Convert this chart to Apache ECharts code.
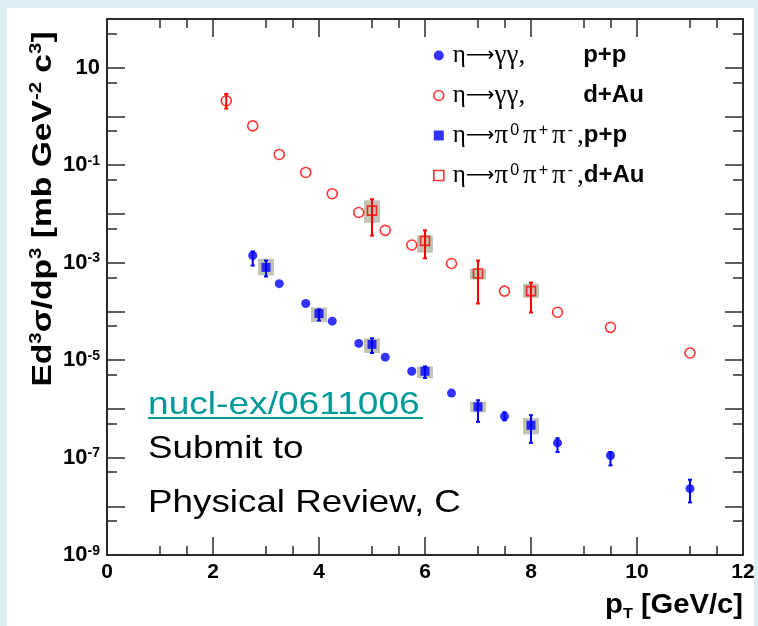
<!DOCTYPE html>
<html>
<head>
<meta charset="utf-8">
<script src="https://cdn.jsdelivr.net/npm/echarts@6/dist/echarts.min.js"></script>
<style>
  html, body { margin: 0; padding: 0; background: #dbeef3; }
  #panel { position: absolute; left: 7px; top: 8px; width: 747px; height: 618px; background: #ffffff; }
  #chart { position: absolute; left: 0; top: 0; width: 758px; height: 626px; }
</style>
</head>
<body>
<div id="panel"></div>
<div id="chart"></div>
<script>
// Invariant cross sections of eta mesons, p+p and d+Au, two decay channels

// eta -> gamma gamma, p+p
const ppGGPt  = [2.75, 3.25, 3.75, 4.25, 4.75, 5.25, 5.75, 6.5, 7.5, 8.5, 9.5, 11];
const ppGGVal = [1.4e-3, 3.7e-4, 1.45e-4, 6.3e-5, 2.2e-5, 1.15e-5, 5.9e-6, 2.1e-6, 7.0e-7, 2.0e-7, 1.1e-7, 2.3e-8];
// error bars that reach beyond the markers
const ppGGErrPt = [2.75, 7.5, 8.5, 9.5, 11];
const ppGGLo    = [8.7e-4, 5.8e-7, 1.3e-7, 6.9e-8, 1.2e-8];
const ppGGHi    = [1.7e-3, 8.5e-7, 2.5e-7, 1.3e-7, 3.5e-8];

// eta -> gamma gamma, d+Au
const dAuGGPt  = [2.25, 2.75, 3.25, 3.75, 4.25, 4.75, 5.25, 5.75, 6.5, 7.5, 8.5, 9.5, 11];
const dAuGGVal = [2.1, 0.64, 0.166, 0.071, 0.026, 0.0107, 4.6e-3, 2.3e-3, 9.6e-4, 2.6e-4, 9.6e-5, 4.7e-5, 1.4e-5];
const dAuGGErrPt = [2.25];
const dAuGGLo    = [1.45];
const dAuGGHi    = [2.9];

// eta -> pi0 pi+ pi-, p+p
const ppPiPt    = [3, 4, 5, 6, 7, 8];
const ppPiVal   = [8.0e-4, 9.0e-5, 2.1e-5, 5.9e-6, 1.1e-6, 4.6e-7];
const ppPiLo    = [5.2e-4, 6.5e-5, 1.4e-5, 4.3e-6, 5.4e-7, 2.0e-7];
const ppPiHi    = [1.1e-3, 1.1e-4, 2.8e-5, 7.4e-6, 1.5e-6, 7.4e-7];
const ppPiSysLo = [5.5e-4, 6.0e-5, 1.4e-5, 4.3e-6, 8.5e-7, 3.0e-7];
const ppPiSysHi = [1.2e-3, 1.2e-4, 2.8e-5, 7.4e-6, 1.4e-6, 6.5e-7];

// eta -> pi0 pi+ pi-, d+Au
const dAuPiPt    = [5, 6, 7, 8];
const dAuPiVal   = [0.0117, 2.8e-3, 6.0e-4, 2.6e-4];
const dAuPiLo    = [3.6e-3, 1.23e-3, 1.45e-4, 9.5e-5];
const dAuPiHi    = [0.020, 4.6e-3, 1.1e-3, 3.9e-4];
const dAuPiSysLo = [6.6e-3, 1.6e-3, 4.5e-4, 1.9e-4];
const dAuPiSysHi = [0.019, 3.6e-3, 7.5e-4, 3.7e-4];

const seriesNames = ['η→γγ, p+p', 'η→γγ, d+Au', 'η→π0π+π-, p+p', 'η→π0π+π-, d+Au'];

// axis ticks and labels
const xMajorTicks = [0, 2, 4, 6, 8, 10, 12];
const xMinorTicks = [1, 1.5, 3, 3.5, 5, 5.5, 7, 7.5, 9, 9.5, 11, 11.5];
const yMajorTicks = [1e-9, 1e-8, 1e-7, 1e-6, 1e-5, 1e-4, 1e-3, 1e-2, 1e-1, 1, 10];
const yMinorTicks = [5e-9, 5e-8, 5e-7, 5e-6, 5e-5, 5e-4, 5e-3, 5e-2, 0.5, 5, 50];
const yLabelValues = [1e-9, 1e-7, 1e-5, 1e-3, 1e-1, 10];

const BLUE = '#0000ff';
const RED = '#ff0000';
const FRAME = '#2b2b2b';
const SYS_FILL = 'rgba(135, 135, 105, 0.5)';

const chart = echarts.init(document.getElementById('chart'), null, { renderer: 'canvas' });

function xAxisDef(position, ticks, len, showLine, showLabel) {
  return {
    type: 'value', position, min: 0, max: 12, interval: 2,
    axisLine: { show: showLine, onZero: false, lineStyle: { color: FRAME, width: 2 } },
    axisTick: { show: true, inside: true, length: len, customValues: ticks, lineStyle: { color: FRAME, width: 1.5 } },
    axisLabel: showLabel ? {
      show: true, margin: 7, color: '#000', fontFamily: 'Liberation Sans', fontWeight: 'bold', fontSize: 21
    } : { show: false },
    splitLine: { show: false }
  };
}

function yAxisDef(position, ticks, len, showLine, showLabel) {
  return {
    type: 'log', logBase: 10, position, min: 1e-9, max: 100,
    axisLine: { show: showLine, onZero: false, lineStyle: { color: FRAME, width: 2 } },
    axisTick: { show: true, inside: true, length: len, customValues: ticks, lineStyle: { color: FRAME, width: 1.5 } },
    axisLabel: showLabel ? {
      show: true, margin: 7, customValues: yLabelValues,
      formatter: function (v) {
        const e = Math.round(Math.log10(v));
        return e === 1 ? '{b|10}' : '{b|10}{s|' + e + '}';
      },
      rich: {
        b: { color: '#000', fontFamily: 'Liberation Sans', fontWeight: 'bold', fontSize: 22, lineHeight: 22 },
        s: { color: '#000', fontFamily: 'Liberation Sans', fontWeight: 'bold', fontSize: 14, lineHeight: 14, verticalAlign: 'top' }
      }
    } : { show: false },
    splitLine: { show: false }
  };
}

function zip3(xs, a, b) { return xs.map((x, i) => [x, a[i], b[i]]); }

function errorBars(xs, lo, hi, color) {
  return {
    type: 'custom', xAxisIndex: 0, yAxisIndex: 0, silent: true, z: 3,
    data: zip3(xs, lo, hi),
    encode: { x: 0, y: [1, 2] },
    renderItem: function (params, api) {
      const top = api.coord([api.value(0), api.value(2)]);
      const bot = api.coord([api.value(0), api.value(1)]);
      const st = { stroke: color, lineWidth: 2 };
      return {
        type: 'group',
        children: [
          { type: 'line', shape: { x1: top[0], y1: top[1], x2: bot[0], y2: bot[1] }, style: st },
          { type: 'line', shape: { x1: top[0] - 2, y1: top[1], x2: top[0] + 2, y2: top[1] }, style: st },
          { type: 'line', shape: { x1: bot[0] - 2, y1: bot[1], x2: bot[0] + 2, y2: bot[1] }, style: st }
        ]
      };
    }
  };
}

function sysBoxes(xs, lo, hi) {
  const halfW = 0.15;
  return {
    type: 'custom', xAxisIndex: 0, yAxisIndex: 0, silent: true, z: 2,
    data: zip3(xs, lo, hi),
    encode: { x: 0, y: [1, 2] },
    renderItem: function (params, api) {
      const a = api.coord([api.value(0) - halfW, api.value(2)]);
      const b = api.coord([api.value(0) + halfW, api.value(1)]);
      return {
        type: 'rect',
        shape: { x: a[0], y: a[1], width: b[0] - a[0], height: b[1] - a[1] },
        style: { fill: SYS_FILL }
      };
    }
  };
}

function points(name, xs, ys, symbol, filled, color, size) {
  return {
    type: 'scatter', name, xAxisIndex: 0, yAxisIndex: 0, z: 5,
    symbol, symbolSize: size,
    data: xs.map((x, i) => [x, ys[i]]),
    itemStyle: filled
      ? { color: color, borderWidth: 0 }
      : { color: 'rgba(0,0,0,0)', borderColor: color, borderWidth: 1.6 }
  };
}

const legendRich = {
  g: { color: '#000', fontFamily: 'Liberation Serif', fontSize: 27, lineHeight: 26 },
  h: { color: '#000', fontFamily: 'Liberation Serif', fontSize: 25, lineHeight: 26, padding: [0, 0, 0, 4] },
  ar: { color: '#000', fontFamily: 'DejaVu Sans', fontSize: 20, lineHeight: 26 },
  s: { color: '#000', fontFamily: 'Liberation Sans', fontSize: 16, lineHeight: 16, verticalAlign: 'top', padding: [0, 4, 0, 2] },
  sp: { fontSize: 10, width: 58 },
  c: { color: '#000', fontFamily: 'Liberation Sans', fontWeight: 'bold', fontSize: 24, lineHeight: 26 }
};

function legendText(name) {
  const parts = name.split(', ');
  const beam = '{c|' + parts[1] + '}';
  if (parts[0].indexOf('γγ') >= 0) {
    return '{h|η}{ar|⟶}{g|γγ,}{sp| }' + beam;
  }
  return '{h|η}{ar|⟶}{g|π}{s|0}{g|π}{s|+}{g|π}{s|-}{g|,}' + beam;
}

const option = {
  animation: false,
  backgroundColor: 'transparent',
  grid: { left: 107, top: 19, width: 636, height: 536, containLabel: false, outerBoundsMode: 'none' },
  xAxis: [
    xAxisDef('bottom', xMajorTicks, 18, true, true),
    xAxisDef('bottom', xMinorTicks, 9, false, false),
    xAxisDef('top', xMajorTicks, 18, true, false),
    xAxisDef('top', xMinorTicks, 9, false, false)
  ],
  yAxis: [
    yAxisDef('left', yMajorTicks, 18, true, true),
    yAxisDef('left', yMinorTicks, 10, false, false),
    yAxisDef('right', yMajorTicks, 18, true, false),
    yAxisDef('right', yMinorTicks, 10, false, false)
  ],
  legend: {
    orient: 'vertical', left: 428, top: 37, itemWidth: 10, itemHeight: 10, itemGap: 13,
    selectedMode: false,
    data: [
      { name: seriesNames[0], icon: 'circle', itemStyle: { color: BLUE, borderWidth: 0 } },
      { name: seriesNames[1], icon: 'circle', itemStyle: { color: 'rgba(0,0,0,0)', borderColor: RED, borderWidth: 1.6 } },
      { name: seriesNames[2], icon: 'rect', itemStyle: { color: BLUE, borderWidth: 0 } },
      { name: seriesNames[3], icon: 'rect', itemStyle: { color: 'rgba(0,0,0,0)', borderColor: RED, borderWidth: 1.6 } }
    ],
    formatter: legendText,
    textStyle: { rich: legendRich }
  },
  series: [
    sysBoxes(ppPiPt, ppPiSysLo, ppPiSysHi),
    sysBoxes(dAuPiPt, dAuPiSysLo, dAuPiSysHi),
    errorBars(ppGGErrPt, ppGGLo, ppGGHi, BLUE),
    errorBars(dAuGGErrPt, dAuGGLo, dAuGGHi, RED),
    errorBars(ppPiPt, ppPiLo, ppPiHi, BLUE),
    errorBars(dAuPiPt, dAuPiLo, dAuPiHi, RED),
    points(seriesNames[0], ppGGPt, ppGGVal, 'circle', true, BLUE, 9),
    points(seriesNames[1], dAuGGPt, dAuGGVal, 'circle', false, RED, 10),
    points(seriesNames[2], ppPiPt, ppPiVal, 'rect', true, BLUE, 9),
    points(seriesNames[3], dAuPiPt, dAuPiVal, 'rect', false, RED, 9)
  ],
  graphic: [
    {
      type: 'text', x: 43, y: 209, rotation: Math.PI / 2, scaleX: 1.2, silent: true,
      style: {
        text: '{m|Ed}{s|3}{m|σ/dp}{s|3}{m| [mb GeV}{s|-2}{m| c}{s|3}{m|]}',
        align: 'center', verticalAlign: 'middle', fill: '#000',
        rich: {
          m: { fill: '#000', fontFamily: 'Liberation Sans', fontWeight: 'bold', fontSize: 28, lineHeight: 30 },
          s: { fill: '#000', fontFamily: 'Liberation Sans', fontWeight: 'bold', fontSize: 17, lineHeight: 17, verticalAlign: 'top' }
        }
      }
    },
    {
      type: 'text', x: 743, y: 606, scaleX: 1.08, silent: true,
      style: {
        text: '{m|p}{t|T}{m| [GeV/c]}',
        align: 'right', verticalAlign: 'middle', fill: '#000',
        rich: {
          m: { fill: '#000', fontFamily: 'Liberation Sans', fontWeight: 'bold', fontSize: 27, lineHeight: 30 },
          t: { fill: '#000', fontFamily: 'Liberation Sans', fontWeight: 'bold', fontSize: 15, lineHeight: 15, verticalAlign: 'bottom' }
        }
      }
    },
    {
      type: 'text', x: 148, y: 405, scaleX: 1.16, silent: true,
      style: { text: 'nucl-ex/0611006', align: 'left', verticalAlign: 'middle', fill: '#009999',
               font: '32px "Liberation Sans", Arial, sans-serif' }
    },
    {
      type: 'line', silent: true,
      shape: { x1: 148, y1: 418, x2: 423, y2: 418 },
      style: { stroke: '#009999', lineWidth: 2 }
    },
    {
      type: 'text', x: 148, y: 449, scaleX: 1.15, silent: true,
      style: { text: 'Submit to', align: 'left', verticalAlign: 'middle', fill: '#000',
               font: '32px "Liberation Sans", Arial, sans-serif' }
    },
    {
      type: 'text', x: 148, y: 503, scaleX: 1.15, silent: true,
      style: { text: 'Physical Review, C', align: 'left', verticalAlign: 'middle', fill: '#000',
               font: '32px "Liberation Sans", Arial, sans-serif' }
    }
  ]
};

chart.setOption(option);
</script>
</body>
</html>
